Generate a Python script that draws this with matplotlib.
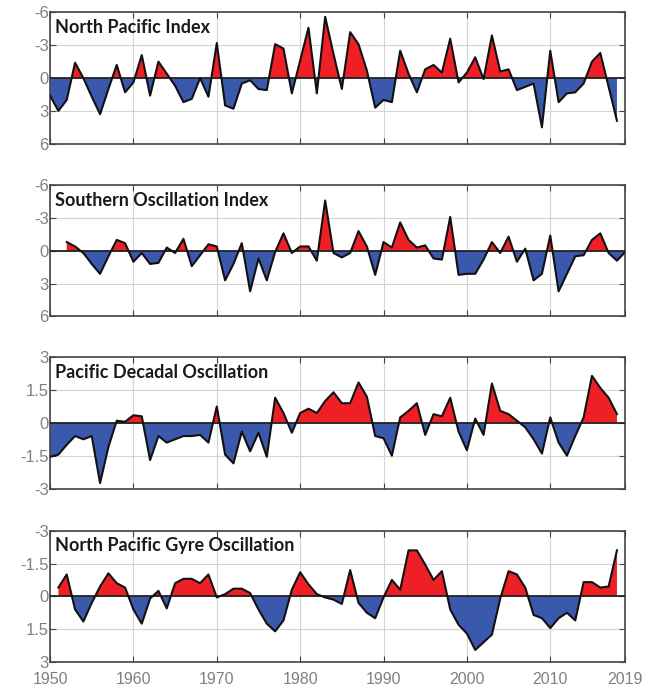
import numpy as np
import matplotlib
matplotlib.use('Agg')
import matplotlib.pyplot as plt

plt.rcParams['axes.unicode_minus'] = False

# Indices annuels
npi_years = np.arange(1950, 2019)
npi = [1.6, 3.0, 2.0, -1.4, 0.0, 1.7, 3.3, 1.0, -1.2, 1.3,
       0.4, -2.1, 1.6, -1.5, -0.4, 0.7, 2.2, 1.9, 0.0, 1.7,
       -3.2, 2.5, 2.8, 0.5, 0.2, 1.0, 1.1, -3.1, -2.7, 1.4,
       -1.6, -4.6, 1.4, -5.6, -2.2, 1.0, -4.2, -3.1, -0.7, 2.7,
       2.0, 2.2, -2.5, -0.4, 1.3, -0.8, -1.2, -0.5, -3.6, 0.4,
       -0.5, -1.9, 0.1, -3.9, -0.6, -0.8, 1.1, 0.8, 0.5, 4.5,
       -2.5, 2.2, 1.4, 1.3, 0.5, -1.5, -2.3, 0.8, 3.9]

soi_years = np.arange(1952, 2020)
soi = [-0.8, -0.4, 0.2, 1.2, 2.1, 0.5, -1.0, -0.7,
       1.0, 0.2, 1.2, 1.1, -0.3, 0.2, -1.1, 1.4, 0.4, -0.6,
       -0.4, 2.7, 1.2, -0.7, 3.7, 0.7, 2.7, 0.1, -1.6, 0.2,
       -0.4, -0.4, 0.9, -4.6, 0.2, 0.6, 0.2, -1.8, -0.4, 2.2,
       -0.8, -0.3, -2.6, -1.0, -0.3, -0.5, 0.7, 0.8, -3.1, 2.2,
       2.1, 2.1, 0.8, -0.8, 0.2, -1.3, 1.0, -0.2, 2.7, 2.1,
       -1.4, 3.7, 2.1, 0.5, 0.4, -1.0, -1.6, 0.2, 0.9, 0.1]

pdo_years = np.arange(1950, 2019)
pdo = [-1.55, -1.45, -1.0, -0.6, -0.75, -0.6, -2.75, -1.1, 0.1, 0.05,
       0.35, 0.3, -1.7, -0.6, -0.9, -0.75, -0.6, -0.6, -0.55, -0.9,
       0.75, -1.45, -1.85, -0.4, -1.3, -0.45, -1.55, 1.15, 0.45, -0.45,
       0.45, 0.65, 0.45, 1.0, 1.4, 0.9, 0.9, 1.85, 1.2, -0.6,
       -0.7, -1.5, 0.25, 0.55, 0.9, -0.55, 0.4, 0.3, 1.15, -0.4,
       -1.25, 0.2, -0.55, 1.8, 0.55, 0.4, 0.1, -0.2, -0.75, -1.4,
       0.25, -0.9, -1.5, -0.6, 0.25, 2.15, 1.6, 1.15, 0.4]

npgo_years = np.arange(1951, 2019)
npgo = [-0.4, -1.0, 0.6, 1.15, 0.3, -0.45, -1.05, -0.6, -0.4,
        0.6, 1.25, 0.1, -0.25, 0.55, -0.6, -0.8, -0.8, -0.6, -1.0,
        0.05, -0.1, -0.35, -0.35, -0.15, 0.6, 1.25, 1.6, 1.1, -0.3,
        -1.1, -0.55, -0.1, 0.05, 0.15, 0.35, -1.2, 0.3, 0.75, 1.0,
        0.05, -0.75, -0.3, -2.1, -2.1, -1.45, -0.75, -1.15, 0.6, 1.3,
        1.7, 2.45, 2.1, 1.75, 0.1, -1.15, -1.0, -0.4, 0.85, 1.0,
        1.45, 1.0, 0.75, 1.1, -0.65, -0.65, -0.4, -0.45, -2.1]

x_ticks = [1950, 1960, 1970, 1980, 1990, 2000, 2010, 2019]

panneaux = [
    ('North Pacific Index', npi_years, npi, [-6, -3, 0, 3, 6], True),
    ('Southern Oscillation Index', soi_years, soi, [-6, -3, 0, 3, 6], True),
    ('Pacific Decadal Oscillation', pdo_years, pdo, [-3, -1.5, 0, 1.5, 3], False),
    ('North Pacific Gyre Oscillation', npgo_years, npgo, [-3, -1.5, 0, 1.5, 3], True),
]

rouge = '#ee2026'
bleu = '#3b59ac'
gris = '#808080'

fig = plt.figure(figsize=(6.5, 6.91), dpi=100)
bas = [0.792, 0.542, 0.293, 0.042]

for k, (titre, ans, vals, yt, inverse) in enumerate(panneaux):
    ax = fig.add_axes([0.077, bas[k], 0.885, 0.19])
    ans = np.asarray(ans, dtype=float)
    vals = np.asarray(vals, dtype=float)

    # rouge = au-dessus du zéro à l'écran
    if inverse:
        haut = vals < 0
    else:
        haut = vals > 0
    ax.fill_between(ans, vals, 0, where=haut, interpolate=True, color=rouge, lw=0)
    ax.fill_between(ans, vals, 0, where=~haut, interpolate=True, color=bleu, lw=0)
    ax.axhline(0, color='#222222', lw=1.3, zorder=3)
    ax.plot(ans, vals, color='#111111', lw=1.5, zorder=4)

    ax.set_xlim(1950, 2019)
    ax.set_ylim(yt[0], yt[-1])
    if inverse:
        ax.invert_yaxis()
    ax.set_yticks(yt)
    ax.set_yticklabels([('%g' % v) for v in yt])
    ax.set_xticks(x_ticks)
    if k == 3:
        ax.set_xticklabels([str(a) for a in x_ticks])
    else:
        ax.set_xticklabels([])

    ax.grid(True, color='#d4d4d4', lw=0.8)
    ax.set_axisbelow(True)
    ax.tick_params(direction='in', top=True, right=True, length=4,
                   colors='#444444', labelcolor=gris)
    ax.tick_params(axis='y', pad=1, labelsize=12)
    ax.tick_params(axis='x', pad=7, labelsize=11.5)
    for lab in ax.get_xticklabels() + ax.get_yticklabels():
        lab.set_family(['Liberation Sans', 'DejaVu Sans'])
    for sp in ax.spines.values():
        sp.set_color('#444444')
        sp.set_linewidth(1.2)

    ax.text(0.008, 0.95, titre, transform=ax.transAxes, ha='left', va='top',
            fontsize=13, fontweight='bold', family=['Lato', 'DejaVu Sans'],
            color='#1a1a1a', zorder=5)

fig.savefig('out.png', dpi=100)
